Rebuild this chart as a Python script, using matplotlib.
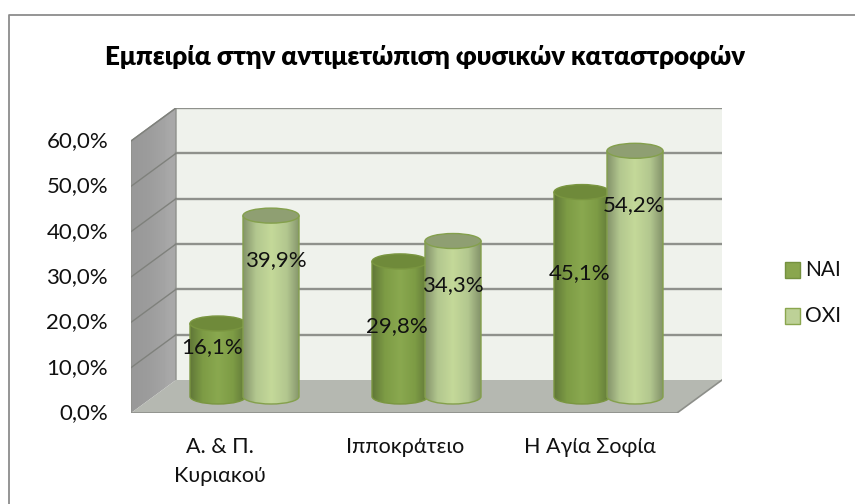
import numpy as np
import matplotlib
matplotlib.use('Agg')
import matplotlib.pyplot as plt
from matplotlib.lines import Line2D
from matplotlib.patches import Ellipse, PathPatch, Polygon, Rectangle
from matplotlib.path import Path

W, H = 855, 504

title = 'Εμπειρία στην αντιμετώπιση φυσικών καταστροφών'
categories = ['Α. & Π.\nΚυριακού', 'Ιπποκράτειο', 'Η Αγία Σοφία']
nai = [16.1, 29.8, 45.1]
oxi = [39.9, 34.3, 54.2]
y_ticks = [0, 10, 20, 30, 40, 50, 60]
# label centres as they sit in the chart, in px
nai_label_x = [212, 397, 580]
nai_label_y = [347, 326, 273]
oxi_label_x = [276, 453, 634]
oxi_label_y = [260, 285, 205]

plt.rcParams['font.family'] = ['Lato', 'Open Sans', 'DejaVu Sans']
FS = 16

fig = plt.figure(figsize=(W / 100, H / 100), dpi=100, facecolor='white')


def fx(px):
    return px / W


def fy(py):
    return 1 - py / H


def comma(v):
    return f'{v:.1f}%'.replace('.', ',')


# chart frame, only top and left are inside the picture
fig.add_artist(Line2D([fx(9), fx(9), 1], [0, fy(15), fy(15)], color='#8c8c8c', lw=1.3))

# front plane runs 131..677 px, 413..141 px, back wall is shifted by the depth
ax = fig.add_axes([fx(131), fy(413), fx(722 - 131), (413 - 108) / H])
dx = 45 / 182
dy = 33 / (272 / 60)
ax.set_xlim(-0.5, 2.5 + dx)
ax.set_ylim(0, 60 + dy)
ax.axis('off')

x0, x1 = -0.5, 2.5
ymax = y_ticks[-1]

ax.add_patch(Rectangle((x0 + dx, dy), x1 - x0, ymax, fc='#eff2ec', ec='none', zorder=1))
# side wall
side_patch = Polygon([(x0, 0), (x0 + dx, dy), (x0 + dx, ymax + dy), (x0, ymax)], fc='none', ec='none', zorder=1)
ax.add_patch(side_patch)
side = np.array([[0.60, 0.61, 0.63, 0.66]])
side_im = ax.imshow(side, cmap='gray', vmin=0, vmax=1, aspect='auto', zorder=1,
                    interpolation='bilinear', extent=(x0, x0 + dx, 0, ymax + dy))
side_im.set_clip_path(side_patch)
ax.plot([x0, x0, x0 + dx, x0 + dx], [0, ymax, ymax + dy, dy], color='#8f918c', lw=1, zorder=2)
# floor
ax.add_patch(Polygon([(x0, 0), (x1, 0), (x1 + dx, dy), (x0 + dx, dy)],
                     fc='#b5b8b1', ec='none', zorder=2))
ax.plot([x0, x1, x1 + dx], [0, 0, dy], color='#8d8f8a', lw=1.2, zorder=2)

# gridlines on back wall and side wall
for t in y_ticks[1:]:
    ax.plot([x0 + dx, x1 + dx], [t + dy, t + dy], color='#8f918c', lw=1.7, zorder=2)
    ax.plot([x0, x0 + dx], [t, t + dy], color='#7f817c', lw=1, zorder=2)

bar_w = 56 / 182
ell_h = 15 / (272 / 60)
xx = np.linspace(0, 1, 64)


def cylinder(xc, val, dark, mid, light, top_col, edge, z):
    left = xc - bar_w / 2
    right = xc + bar_w / 2
    base = dy / 2
    top = val + dy / 2
    # cylinder shading, dark at both sides
    shade = np.clip(1 - np.abs(xx - 0.5) * 2, 0, 1)
    rgb = np.array([np.interp(shade, [0, 0.45, 1], [dark[i], mid[i], light[i]]) for i in range(3)])
    img = rgb.T[np.newaxis, :, :]
    k = 0.5523
    ry = ell_h / 2
    rx = bar_w / 2
    verts = [(left, top), (left, base),
             (left, base - k * ry), (xc - k * rx, base - ry), (xc, base - ry),
             (xc + k * rx, base - ry), (right, base - k * ry), (right, base),
             (right, top), (left, top)]
    codes = [Path.MOVETO, Path.LINETO, Path.CURVE4, Path.CURVE4, Path.CURVE4,
             Path.CURVE4, Path.CURVE4, Path.CURVE4, Path.LINETO, Path.CLOSEPOLY]
    body = PathPatch(Path(verts, codes), transform=ax.transData, fc='none', ec=edge, lw=1, zorder=z + 0.1)
    ax.add_patch(body)
    im = ax.imshow(img, aspect='auto', extent=(left, right, base - ry, top), zorder=z)
    im.set_clip_path(body)
    ax.add_patch(Ellipse((xc, top), bar_w, ell_h, fc=top_col, ec=edge, lw=1, zorder=z + 0.2))


def px_x(px):
    return (px - 131) / 182 - 0.5


def px_y(py):
    return (413 - py) / (272 / 60)


for i in range(len(categories)):
    c = i + dx / 2
    off = 26.5 / 182
    cylinder(c - off, nai[i], (0.38, 0.47, 0.22), (0.49, 0.61, 0.27), (0.54, 0.66, 0.31),
             '#6f8a3a', '#7a9640', 3)
    cylinder(c + off, oxi[i], (0.52, 0.58, 0.42), (0.70, 0.78, 0.56), (0.77, 0.85, 0.60),
             '#8f9f72', '#84a04c', 4)
    ax.text(px_x(nai_label_x[i]), px_y(nai_label_y[i]), comma(nai[i]), fontsize=FS,
            ha='center', va='center', color='#111111', zorder=6)
    ax.text(px_x(oxi_label_x[i]), px_y(oxi_label_y[i]), comma(oxi[i]), fontsize=FS,
            ha='center', va='center', color='#111111', zorder=6)
    ax.text(px_x(220 + 185 * i), px_y(437), categories[i], fontsize=15.5, ha='center', va='top',
            color='#111111', linespacing=1.55)

for t in y_ticks:
    ax.text(px_x(108), t, comma(t), fontsize=FS, ha='right', va='center', color='#111111')

fig.text(fx(424.5), fy(57), title, fontsize=18.7, fontweight='heavy', ha='center', va='center', color='#000000')

# legend
for name, col, edge, py in [('ΝΑΙ', '#8aa64e', '#75913f', 270), ('ΟΧΙ', '#bdd197', '#8aa64e', 316)]:
    fig.add_artist(Rectangle((fx(785), fy(py + 8)), 15 / W, 16 / H, transform=fig.transFigure,
                             fc=col, ec=edge, lw=1))
    fig.text(fx(805), fy(py), name, fontsize=15, ha='left', va='center', color='#111111')

fig.savefig('out.png', dpi=100)
